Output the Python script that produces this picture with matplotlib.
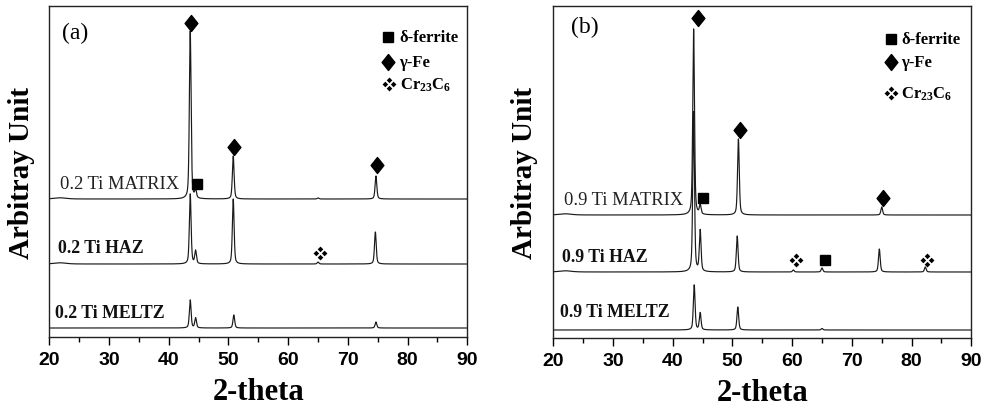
import numpy as np
import matplotlib
matplotlib.use("Agg")
import matplotlib.pyplot as plt
from matplotlib.path import Path
from matplotlib.ticker import MultipleLocator

plt.rcParams['font.family'] = ['Liberation Serif', 'DejaVu Serif']
plt.rcParams['mathtext.fontset'] = 'custom'
plt.rcParams['mathtext.rm'] = 'Liberation Serif:bold'
plt.rcParams['mathtext.default'] = 'rm'

# ---------------- data ----------------
two_theta_range = (20, 90)

# panel (a): 0.2 Ti
a_names = ["0.2 Ti MELTZ", "0.2 Ti HAZ", "0.2 Ti MATRIX"]
a_offsets = [9, 73, 138]
a_meltz_pos = [43.6, 44.5, 50.9, 74.7]
a_meltz_h = [28, 10, 13, 6]
a_haz_pos = [21.8, 43.6, 44.5, 50.8, 65.0, 74.6]
a_haz_h = [1.2, 70, 13, 65, 2, 32]
a_matrix_pos = [21.8, 43.6, 44.5, 50.8, 65.0, 74.7]
a_matrix_h = [1.2, 168, 8, 43, 1, 23]
a_gamma = [(43.7, 314), (50.9, 190), (74.8, 172)]
a_delta = [(44.8, 153)]
a_carbide = [(65.3, 84)]
a_label_pos = [(21.0, 25), (21.5, 90), (21.8, 154)]

# panel (b): 0.9 Ti
b_names = ["0.9 Ti MELTZ", "0.9 Ti HAZ", "0.9 Ti MATRIX"]
b_offsets = [8, 66, 123]
b_meltz_pos = [43.6, 44.6, 50.9, 65.0]
b_meltz_h = [45, 17, 23, 1.5]
b_haz_pos = [22.0, 43.5, 44.6, 50.8, 60.2, 65.0, 74.6, 82.3]
b_haz_h = [1.2, 160, 41, 36, 2, 4, 23, 5]
b_matrix_pos = [22.0, 43.5, 44.6, 51.0, 75.0]
b_matrix_h = [1.2, 186, 9, 76, 8]
b_gamma = [(44.2, 320), (51.3, 208), (75.2, 140)]
b_delta = [(45.0, 140), (65.5, 78)]
b_carbide = [(60.6, 78), (82.6, 78)]
b_label_pos = [(21.1, 26), (21.5, 81), (21.8, 138)]

legend_labels = [r"δ-ferrite", r"γ-Fe", r"Cr$_{23}$C$_{6}$"]

# ---------------- helpers ----------------
x = np.linspace(two_theta_range[0], two_theta_range[1], 14001)


def pattern(pos, hts):
    y = np.zeros_like(x)
    for c, h in zip(pos, hts):
        w = 1.2 if c < 25 else 0.17
        lor = 1.0 / (1.0 + ((x - c) / w) ** 2)
        gau = np.exp(-np.log(2) * ((x - c) / w) ** 2)
        y += h * (0.45 * lor + 0.55 * gau)
    return y


# markers
diamond = Path([(0, 1), (0.8, 0), (0, -1), (-0.8, 0), (0, 1)],
               [Path.MOVETO, Path.LINETO, Path.LINETO, Path.LINETO, Path.CLOSEPOLY])


def small_d(cx, cy, r=0.42):
    return [(cx, cy + r), (cx + r, cy), (cx, cy - r), (cx - r, cy), (cx, cy + r)]


verts, codes = [], []
for cx, cy in [(0, 0.62), (0.62, 0), (0, -0.62), (-0.62, 0)]:
    verts += small_d(cx, cy)
    codes += [Path.MOVETO, Path.LINETO, Path.LINETO, Path.LINETO, Path.CLOSEPOLY]
carbide = Path(verts, codes)

fig = plt.figure(figsize=(9.88, 4.10), dpi=100)
ax_a = fig.add_axes([0.0499, 0.1756, 0.4231, 0.8073])
ax_b = fig.add_axes([0.5600, 0.1732, 0.4231, 0.8097])

panels = [
    (ax_a, "(a)", (0.03, 0.92), a_names, a_offsets,
     [(a_meltz_pos, a_meltz_h), (a_haz_pos, a_haz_h), (a_matrix_pos, a_matrix_h)],
     a_gamma, a_delta, a_carbide, a_label_pos, 331,
     [(0.810, 0.906), (0.810, 0.831), (0.812, 0.764)], 0.838),
    (ax_b, "(b)", (0.042, 0.937), b_names, b_offsets,
     [(b_meltz_pos, b_meltz_h), (b_haz_pos, b_haz_h), (b_matrix_pos, b_matrix_h)],
     b_gamma, b_delta, b_carbide, b_label_pos, 332,
     [(0.808, 0.900), (0.808, 0.831), (0.808, 0.738)], 0.832),
]

for (ax, tag, tagpos, names, offs, series, gam, del_, car, lpos, ytop,
     legpos, legtx) in panels:
    for (pos, hts), off in zip(series, offs):
        ax.plot(x, off + pattern(pos, hts), color='#1a1a1a', lw=0.85)
    for (name, (lx, ly)) in zip(names, lpos):
        if 'MATRIX' in name:
            ax.text(lx, ly, name, fontsize=13.3, fontweight='normal',
                    ha='left', va='center', color='#222222')
        else:
            ax.text(lx, ly, name, fontsize=12.8, fontweight='bold',
                    ha='left', va='center', color='#111111')
    gx, gy = zip(*gam)
    ax.plot(gx, gy, ls='none', marker=diamond, ms=11.5, color='black')
    dx, dy = zip(*del_)
    ax.plot(dx, dy, ls='none', marker='s', ms=7.5, color='black')
    cx, cy = zip(*car)
    ax.plot(cx, cy, ls='none', marker=carbide, ms=10, color='black', mew=0)

    # legend
    ax.plot(*legpos[0], ls='none', marker='s', ms=7.5, color='black', transform=ax.transAxes)
    ax.plot(*legpos[1], ls='none', marker=diamond, ms=11.5, color='black', transform=ax.transAxes)
    ax.plot(*legpos[2], ls='none', marker=carbide, ms=10, color='black', mew=0, transform=ax.transAxes)
    for (lx_, ly_), txt in zip(legpos, legend_labels):
        ax.text(legtx, ly_, txt, transform=ax.transAxes, fontsize=12,
                fontweight='bold', ha='left', va='center')

    ax.text(tagpos[0], tagpos[1], tag, transform=ax.transAxes, fontsize=17,
            ha='left', va='center')

    ax.set_xlim(*two_theta_range)
    ax.set_ylim(0, ytop)
    ax.xaxis.set_major_locator(MultipleLocator(10))
    ax.xaxis.set_minor_locator(MultipleLocator(5))
    ax.tick_params(axis='x', which='major', direction='out', length=6, width=1,
                   pad=4, labelsize=14)
    ax.tick_params(axis='x', which='minor', direction='out', length=3.5, width=1)
    ax.set_yticks([])
    for lab in ax.get_xticklabels():
        lab.set_fontfamily('Liberation Sans')
        lab.set_fontweight('bold')
    for sp in ax.spines.values():
        sp.set_linewidth(1.0)
        sp.set_color('#222222')
    ax.set_xlabel("2-theta", fontsize=22, fontweight='bold')
    ax.xaxis.set_label_coords(0.5, -0.165)
    ax.xaxis.label.set_va('center')
    ax.set_ylabel("Arbitray Unit", fontsize=21, fontweight='bold')
    ax.yaxis.label.set_va('center')

ax_a.yaxis.set_label_coords(-0.066, 0.5)
ax_b.yaxis.set_label_coords(-0.070, 0.5)

fig.savefig("out.png", dpi=100)
